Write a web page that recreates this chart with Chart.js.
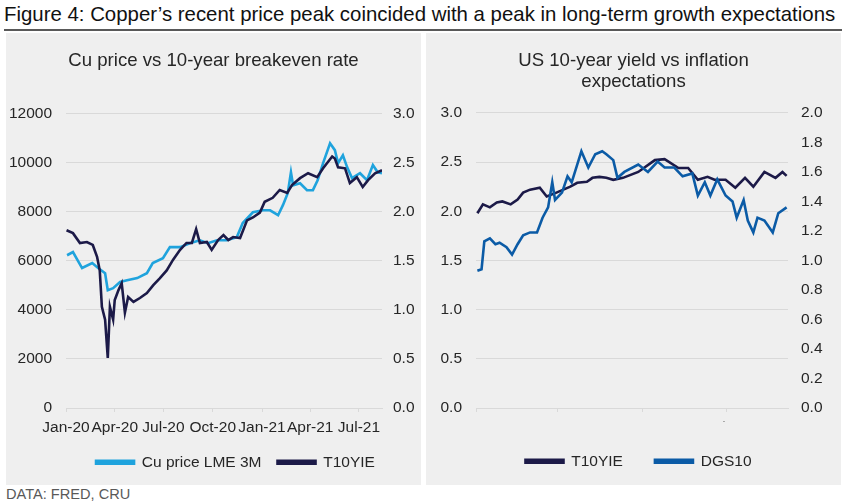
<!DOCTYPE html>
<html>
<head>
<meta charset="utf-8">
<script src="https://cdn.jsdelivr.net/npm/chart.js@4.4.1/dist/chart.umd.min.js"></script>
<style>
    body { margin: 0; width: 850px; height: 503px; background: #fff; position: relative; overflow: hidden;
           font-family: "Liberation Sans", Arial, sans-serif; }
    #titulo { position: absolute; left: 4px; top: 3px; font-size: 20.4px; color: #111; white-space: nowrap; }
    #linha { position: absolute; left: 4px; top: 29px; width: 838px; height: 2px; background: #595959; }
    .painel { position: absolute; top: 33px; height: 452px; background: #efefef; }
    #fonte { position: absolute; left: 6px; top: 486px; font-size: 14.6px; color: #595959; }
</style>
</head>
<body>
<div id="titulo">Figure 4: Copper’s recent price peak coincided with a peak in long-term growth expectations</div>
<div id="linha"></div>
<div class="painel" style="left:6px;width:415px"><canvas id="graficoCobre" width="415" height="452"></canvas></div>
<div class="painel" style="left:426px;width:415px"><canvas id="graficoJuros" width="415" height="452"></canvas></div>
<div id="fonte">DATA: FRED, CRU</div>
<script>
    // left chart: days counted from 1 Jan 2020
    var cuDias = [2, 13, 30, 49, 60, 73, 78, 88, 101, 114, 133, 151, 162, 181, 194, 213, 231, 250, 265, 282, 300,
        319, 330, 349, 368, 381, 396, 405, 414, 420, 424, 437, 450, 461, 470, 480, 493, 502, 508, 517, 525, 534,
        549, 562, 573, 582, 590];
    var cuPreco = [6220, 6350, 5700, 5900, 5700, 5490, 4800, 4880, 5130, 5200, 5290, 5490, 5900, 6100, 6550, 6550,
        6710, 6830, 6710, 6830, 6830, 6960, 7530, 7970, 8050, 8050, 7850, 8260, 8750, 9600, 9070, 9150, 8870, 8870,
        9280, 9970, 10780, 10500, 9970, 10290, 9800, 9360, 9560, 9280, 9890, 9600, 9560];

    var bkDias = [1, 13, 26, 39, 50, 58, 63, 67, 73, 78, 82, 88, 91, 98, 104, 110, 116, 126, 138, 151, 163, 175,
        188, 200, 213, 225, 235, 243, 250, 263, 272, 284, 294, 303, 312, 325, 338, 349, 362, 371, 386, 399, 413,
        422, 437, 452, 469, 480, 497, 502, 508, 521, 530, 543, 554, 564, 577, 590];
    var bkTaxa = [1.81, 1.78, 1.68, 1.69, 1.66, 1.54, 1.40, 1.03, 0.90, 0.51, 1.03, 0.90, 1.10, 1.20, 1.27, 0.97,
        1.13, 1.08, 1.12, 1.17, 1.25, 1.32, 1.40, 1.51, 1.61, 1.68, 1.68, 1.82, 1.68, 1.69, 1.61, 1.71, 1.76, 1.71,
        1.74, 1.73, 1.91, 1.94, 1.99, 2.10, 2.14, 2.22, 2.19, 2.27, 2.34, 2.39, 2.35, 2.44, 2.56, 2.54, 2.45, 2.44,
        2.29, 2.35, 2.25, 2.32, 2.39, 2.42];

    var ticksEsqDias = [0, 91, 182, 274, 366, 456, 547];
    var ticksEsqRotulos = ['Jan-20', 'Apr-20', 'Jul-20', 'Oct-20', 'Jan-21', 'Apr-21', 'Jul-21'];

    // right chart: days counted from 1 Jan 2021
    var t10Dias = [1, 5, 10, 15, 19, 25, 30, 34, 39, 46, 51, 58, 63, 68, 73, 80, 84, 89, 94, 99, 106, 117, 129,
        136, 146, 153, 160, 167, 172, 180, 187, 194, 200, 208, 216, 221, 224];
    var t10Taxa = [1.98, 2.07, 2.04, 2.09, 2.10, 2.07, 2.12, 2.19, 2.22, 2.24, 2.15, 2.19, 2.22, 2.25, 2.29, 2.30,
        2.34, 2.35, 2.34, 2.32, 2.34, 2.40, 2.52, 2.53, 2.44, 2.44, 2.32, 2.35, 2.32, 2.32, 2.24, 2.34, 2.25, 2.40,
        2.34, 2.40, 2.36];

    var dgsDias = [1, 4, 6, 10, 14, 17, 22, 26, 30, 34, 39, 44, 48, 52, 55, 57, 62, 66, 69, 73, 76, 81, 86, 91, 94,
        99, 102, 107, 117, 124, 131, 136, 143, 149, 156, 160, 165, 169, 174, 180, 185, 188, 193, 196, 200, 203,
        208, 214, 218, 224];
    var dgsTaxa = [0.93, 0.94, 1.13, 1.15, 1.11, 1.12, 1.09, 1.04, 1.11, 1.17, 1.19, 1.19, 1.29, 1.36, 1.53, 1.41,
        1.46, 1.57, 1.53, 1.65, 1.74, 1.63, 1.72, 1.74, 1.72, 1.68, 1.56, 1.60, 1.65, 1.60, 1.67, 1.63, 1.63, 1.57,
        1.59, 1.44, 1.53, 1.44, 1.55, 1.44, 1.40, 1.29, 1.41, 1.27, 1.19, 1.29, 1.27, 1.19, 1.32, 1.36];

    var ticksDirDias = [0, 59, 120, 181];
    var ticksDirRotulos = ['Jan-21', 'Mar-21', 'May-21', 'Jul-21'];

    var corTexto = '#262626';
    var corGrade = '#d9d9d9';
    var fonteEixo = { family: '"Liberation Sans", Arial, sans-serif', size: 15.5 };

    function pontos(dias, valores) {
        return dias.map(function (d, i) { return { x: d, y: valores[i] }; });
    }

    // nudges the legend sideways, the reference is not centred
    var moverLegenda = {
        id: 'moverLegenda',
        afterLayout: function (chart, args, opts) {
            chart.legend.left += opts.dx;
            chart.legend.right += opts.dx;
        }
    };

    function eixoX(max, dias, rotulos) {
        return {
            type: 'linear', min: 0, max: max,
            afterBuildTicks: function (s) { s.ticks = dias.map(function (d) { return { value: d }; }); },
            afterFit: function (s) { s.height = s.chart.canvas.id == 'graficoCobre' ? 30.5 : 13.5; },
            ticks: {
                autoSkip: false, maxRotation: 0, padding: 6, color: corTexto, font: fonteEixo,
                callback: function (v, i) { return rotulos[i]; }
            },
            grid: { drawOnChartArea: false, drawTicks: true, tickLength: 4, color: corGrade },
            border: { color: corGrade }
        };
    }

    function eixoY(lado, max, passo, largura, pad, grade, casas) {
        return {
            position: lado, min: 0, max: max,
            afterFit: function (s) { s.width = largura; },
            ticks: {
                stepSize: passo, padding: pad, color: corTexto, font: fonteEixo,
                callback: function (v) { return v.toFixed(casas); }
            },
            grid: { display: grade, drawTicks: false, color: corGrade },
            border: { display: false }
        };
    }

    var configCobre = {
        type: 'line',
        data: {
            datasets: [{
                label: 'Cu price LME 3M',
                data: pontos(cuDias, cuPreco),
                borderColor: '#1fa3dd', backgroundColor: '#1fa3dd',
                borderWidth: 2.6, pointRadius: 0, tension: 0, yAxisID: 'y', order: 1
            }, {
                label: 'T10YIE',
                data: pontos(bkDias, bkTaxa),
                borderColor: '#1c1a48', backgroundColor: '#1c1a48',
                borderWidth: 2.6, pointRadius: 0, tension: 0, yAxisID: 'y1', order: 0
            }]
        },
        options: {
            responsive: false, animation: false,
            layout: { padding: { bottom: 5 } },
            scales: {
                x: eixoX(590, ticksEsqDias, ticksEsqRotulos),
                y: eixoY('left', 12000, 2000, 60, 14, true, 0),
                y1: eixoY('right', 3, 0.5, 39, 11, false, 1)
            },
            plugins: {
                title: {
                    display: true, text: 'Cu price vs 10-year breakeven rate', color: corTexto,
                    font: { family: fonteEixo.family, size: 18.6, weight: 'normal' },
                    padding: { top: 17, bottom: 41 }
                },
                legend: {
                    position: 'bottom',
                    labels: {
                        boxWidth: 38, boxHeight: 3, padding: 16, color: corTexto, font: fonteEixo,
                        sort: function (a, b) { return a.datasetIndex - b.datasetIndex; }
                    }
                },
                moverLegenda: { dx: 22 },
                tooltip: { enabled: false }
            }
        },
        plugins: [moverLegenda]
    };

    var configJuros = {
        type: 'line',
        data: {
            datasets: [{
                label: 'T10YIE',
                data: pontos(t10Dias, t10Taxa),
                borderColor: '#1c1a48', backgroundColor: '#1c1a48',
                borderWidth: 2.6, pointRadius: 0, tension: 0, yAxisID: 'y', order: 1
            }, {
                label: 'DGS10',
                data: pontos(dgsDias, dgsTaxa),
                borderColor: '#0b5ba6', backgroundColor: '#0b5ba6',
                borderWidth: 2.6, pointRadius: 0, tension: 0, yAxisID: 'y1', order: 0
            }]
        },
        options: {
            responsive: false, animation: false,
            layout: { padding: { bottom: 6 } },
            scales: {
                x: eixoX(225, ticksDirDias, ticksDirRotulos),
                y: eixoY('left', 3, 0.5, 50, 14, true, 1),
                y1: eixoY('right', 2, 0.2, 53, 13, false, 1)
            },
            plugins: {
                title: {
                    display: true, text: ['US 10-year yield vs inflation', 'expectations'], color: corTexto,
                    font: { family: fonteEixo.family, size: 18.6, weight: 'normal', lineHeight: 1.1 },
                    padding: { top: 18, bottom: 21 }
                },
                legend: {
                    position: 'bottom',
                    labels: {
                        boxWidth: 38, boxHeight: 3, padding: 32, color: corTexto, font: fonteEixo,
                        sort: function (a, b) { return a.datasetIndex - b.datasetIndex; }
                    }
                },
                moverLegenda: { dx: 5 },
                tooltip: { enabled: false }
            }
        },
        plugins: [moverLegenda]
    };

    new Chart(document.getElementById('graficoCobre'), configCobre);
    new Chart(document.getElementById('graficoJuros'), configJuros);
</script>
</body>
</html>
